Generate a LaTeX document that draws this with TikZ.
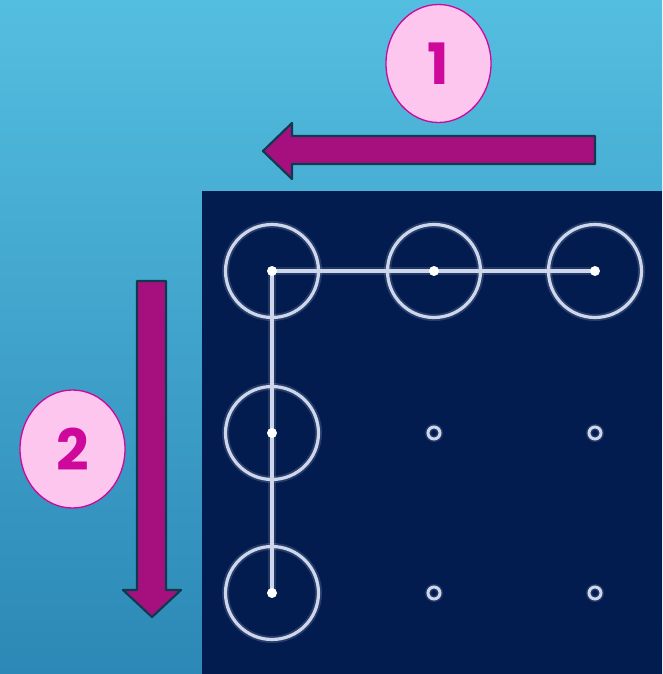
\documentclass[tikz,border=0pt]{standalone}
\usepackage{fontspec}
\newfontfamily\numfont{Poppins}
\usetikzlibrary{shapes.geometric}
\definecolor{bgtop}{RGB}{84,190,224}
\definecolor{bgbot}{RGB}{44,136,182}
\definecolor{panel}{RGB}{2,28,80}
\definecolor{pinkfill}{RGB}{252,198,238}
\definecolor{magenta}{RGB}{206,8,154}
\definecolor{arrowfill}{RGB}{165,16,126}
\definecolor{arrowedge}{RGB}{14,58,80}
\definecolor{ringcol}{RGB}{205,214,234}
\tikzset{
  numlabel/.style={ellipse, draw=magenta, line width=1.3pt, fill=pinkfill,
    minimum width=105pt, minimum height=118pt, inner sep=0pt,
    text=magenta, font=\numfont\bfseries\fontsize{57}{57}\selectfont},
  blockarrow/.style={fill=arrowfill, draw=arrowedge, line width=2.2pt, line join=round},
  bigring/.style={circle, draw=ringcol, line width=3.2pt, minimum size=93pt, inner sep=0pt},
  glowring/.style={circle, draw=ringcol, draw opacity=0.18, line width=7pt, minimum size=93pt, inner sep=0pt},
  smallring/.style={circle, draw=ringcol, line width=3pt, minimum size=12pt, inner sep=0pt},
  smallglow/.style={circle, draw=ringcol, draw opacity=0.15, line width=6pt, minimum size=12pt, inner sep=0pt},
  centerdot/.style={circle, fill=white, minimum size=10pt, inner sep=0pt},
  trail/.style={draw=ringcol, line width=4pt},
  trailglow/.style={draw=ringcol, draw opacity=0.15, line width=8pt}
}
\begin{document}
\begin{tikzpicture}[x=1pt,y=-1pt]
\useasboundingbox (0,0) rectangle (662,674);
\shade[top color=bgtop, bottom color=bgbot] (0,0) rectangle (662,674);
\fill[panel] (202,191) rectangle (662,674);
% block arrows
\draw[blockarrow] (595,136) -- (292,136) -- (292,123) -- (263,151) -- (292,179) -- (292,164) -- (595,164) -- cycle;
\draw[blockarrow] (137,281) -- (166,281) -- (166,590) -- (181,590) -- (152,617) -- (123,590) -- (137,590) -- cycle;
% labels
\node[numlabel] (n1) at (438.5,63.5) {1};
\node[numlabel] (n2) at (72.5,449) {2};
% grid coordinates
\coordinate (p11) at (272,271);
\coordinate (p12) at (434,271);
\coordinate (p13) at (595,271);
\coordinate (p21) at (272,433);
\coordinate (p22) at (434,433);
\coordinate (p23) at (595,433);
\coordinate (p31) at (272,593);
\coordinate (p32) at (434,593);
\coordinate (p33) at (595,593);
% glow
\foreach \p in {p11,p12,p13,p21,p31} \node[glowring] at (\p) {};
\foreach \p in {p22,p23,p32,p33} \node[smallglow] at (\p) {};
\draw[trailglow] (p13) -- (p11) -- (p31);
% rings
\foreach \p in {p11,p12,p13,p21,p31} \node[bigring] (r\p) at (\p) {};
\draw[trail] (p13) -- (p11) -- (p31);
\foreach \p in {p11,p12,p13,p21,p31} \node[centerdot] (d\p) at (\p) {};
\foreach \p in {p22,p23,p32,p33} \node[smallring] (s\p) at (\p) {};
\end{tikzpicture}
\end{document}
